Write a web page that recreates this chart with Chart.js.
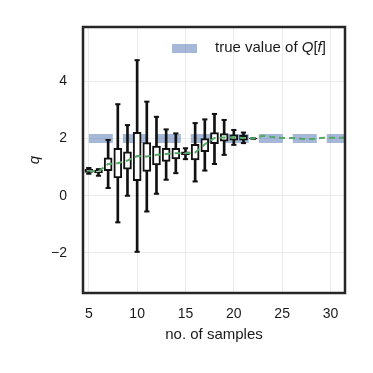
<!DOCTYPE html>
<html lang="en">
<head>
<meta charset="UTF-8">
<title>q vs no. of samples</title>
<script src="https://cdn.jsdelivr.net/npm/chart.js"></script>
<style>
  html, body { margin: 0; padding: 0; background: #fff; }
  #wrap { width: 373px; height: 373px; }
</style>
</head>
<body>
<div id="wrap"><canvas id="myChart" width="373" height="373"></canvas></div>

<script>
  // one box per number of samples
  var samples     = [5, 6, 7, 8, 9, 10, 11, 12, 13, 14, 15, 16, 17, 18, 19, 20, 21, 22];
  var whiskerHigh = [0.97, 0.93, 1.95, 3.20, 2.47, 4.74, 3.29, 2.76, 2.32, 2.18, 1.66, 2.54, 2.67, 2.86, 2.65, 2.30, 2.21, 2.01];
  var boxHigh     = [0.92, 0.89, 1.33, 1.66, 1.54, 2.22, 1.86, 1.74, 1.66, 1.66, 1.54, 1.80, 2.00, 2.21, 2.17, 2.13, 2.11, 2.01];
  var boxLow      = [0.82, 0.80, 0.88, 0.62, 0.93, 0.53, 0.85, 1.08, 1.20, 1.29, 1.43, 1.25, 1.54, 1.82, 1.91, 1.94, 1.94, 1.99];
  var whiskerLow  = [0.77, 0.70, 0.27, -0.93, 0.00, -1.96, -0.55, 0.07, 0.56, 0.79, 1.28, 0.50, 0.88, 1.11, 1.43, 1.78, 1.84, 1.99];

  // green dashed estimate line
  var estimateX = [5, 6, 7, 8, 9, 10, 11, 12, 13, 14, 15, 16, 17, 18, 19, 20, 21, 22, 23, 24, 25, 26, 27, 28, 29, 30, 31, 32];
  var estimate  = [0.87, 0.85, 1.11, 1.14, 1.23, 1.39, 1.37, 1.43, 1.46, 1.49, 1.49, 1.51, 1.80, 2.02, 2.04, 2.04, 2.02, 2.00,
                   2.10, 2.05, 2.02, 2.02, 1.99, 1.98, 2.02, 2.03, 2.03, 2.03];

  // true value
  var trueX = [5, 32];
  var trueValue = 2;

  var xTicks = [5, 10, 15, 20, 25, 30];
  var yTicks = [-2, 0, 2, 4];

  var legendParts = [
    { t: 'true value of ', italic: false },
    { t: 'Q', italic: true },
    { t: '[', italic: false },
    { t: 'f', italic: true },
    { t: ']', italic: false }
  ];

  var textColor = '#1a1a1a';
  var blueSoft = 'rgba(76, 114, 176, 0.5)';
  var green = '#55a868';
  var fontFamily = '"Liberation Sans", Arial, sans-serif';

  var boxData = samples.map(function (s, i) { return { x: s, y: [boxLow[i], boxHigh[i]] }; });
  var whiskerData = samples.map(function (s, i) { return { x: s, y: [whiskerLow[i], whiskerHigh[i]] }; });
  var capData = [];
  samples.forEach(function (s, i) {
    capData.push({ x: s, y: whiskerLow[i] });
    capData.push({ x: s, y: whiskerHigh[i] });
  });
  var estimateData = estimateX.map(function (x, i) { return { x: x, y: estimate[i] }; });
  var trueData = trueX.map(function (x) { return { x: x, y: trueValue }; });

  // frame around the plot area
  var framePlugin = {
    id: 'frame',
    afterDatasetsDraw: function (chart) {
      var a = chart.chartArea, ctx = chart.ctx;
      ctx.save();
      ctx.strokeStyle = '#262626';
      ctx.lineWidth = 2.5;
      ctx.strokeRect(a.left, a.top, a.right - a.left, a.bottom - a.top);
      ctx.restore();
    }
  };

  // legend with mixed italic text
  var legendPlugin = {
    id: 'mathLegend',
    afterDraw: function (chart) {
      var ctx = chart.ctx;
      ctx.save();
      ctx.fillStyle = blueSoft;
      ctx.fillRect(172, 44, 25, 9);
      var x = 215;
      ctx.fillStyle = textColor;
      ctx.textBaseline = 'middle';
      legendParts.forEach(function (p) {
        ctx.font = (p.italic ? 'italic ' : '') + '15px ' + fontFamily;
        ctx.fillText(p.t, x, 48);
        x += ctx.measureText(p.t).width;
      });
      ctx.restore();
    }
  };

  var config = {
    type: 'bar',
    data: {
      datasets: [
        {
          type: 'line',
          label: 'true value',
          data: trueData,
          borderColor: blueSoft,
          borderWidth: 9,
          borderDash: [24, 10],
          borderCapStyle: 'butt',
          pointRadius: 0,
          clip: 0,
          order: 10
        },
        {
          type: 'bar',
          label: 'whiskers',
          data: whiskerData,
          backgroundColor: '#111',
          borderWidth: 0,
          barThickness: 2,
          grouped: false,
          order: 8
        },
        {
          type: 'bar',
          label: 'boxes',
          data: boxData,
          backgroundColor: '#fff',
          borderColor: '#111',
          borderWidth: 2,
          borderSkipped: false,
          barThickness: 8,
          grouped: false,
          order: 7
        },
        {
          type: 'scatter',
          label: 'caps',
          data: capData,
          pointStyle: 'line',
          pointRadius: 2.6,
          borderColor: '#111',
          borderWidth: 2,
          order: 6
        },
        {
          type: 'line',
          label: 'estimate',
          data: estimateData,
          borderColor: green,
          borderWidth: 2,
          borderDash: [6, 4],
          pointRadius: 0,
          clip: 0,
          order: 1
        }
      ]
    },
    options: {
      responsive: false,
      animation: false,
      devicePixelRatio: 1,
      layout: { padding: { top: 27, right: 28, left: 0, bottom: 0 } },
      plugins: {
        legend: { display: false },
        tooltip: { enabled: false }
      },
      scales: {
        x: {
          type: 'linear',
          min: 4.4,
          max: 31.5,
          offset: false,
          afterBuildTicks: function (s) { s.ticks = xTicks.map(function (v) { return { value: v }; }); },
          afterFit: function (s) { s.height = 80; },
          grid: { color: '#ebebeb', lineWidth: 1, drawTicks: false, offset: false },
          border: { display: false },
          ticks: { color: textColor, padding: 13, maxRotation: 0, font: { family: fontFamily, size: 14 } },
          title: {
            display: true,
            text: 'no. of samples',
            color: textColor,
            font: { family: fontFamily, size: 15 },
            padding: { top: 0, bottom: 29 }
          }
        },
        y: {
          type: 'linear',
          min: -3.4,
          max: 5.9,
          afterBuildTicks: function (s) { s.ticks = yTicks.map(function (v) { return { value: v }; }); },
          afterFit: function (s) { s.width = 83; },
          grid: { color: '#ebebeb', lineWidth: 1, drawTicks: false },
          border: { display: false },
          ticks: {
            color: textColor,
            padding: 16,
            font: { family: fontFamily, size: 14 },
            callback: function (v) { return String(v).replace('-', '\u2212'); }
          },
          title: {
            display: true,
            text: 'q',
            color: textColor,
            font: { family: fontFamily, size: 15, style: 'italic' },
            padding: { top: 26, bottom: 0 }
          }
        }
      }
    },
    plugins: [framePlugin, legendPlugin]
  };

  var myChart = new Chart(document.getElementById('myChart'), config);
</script>
</body>
</html>
